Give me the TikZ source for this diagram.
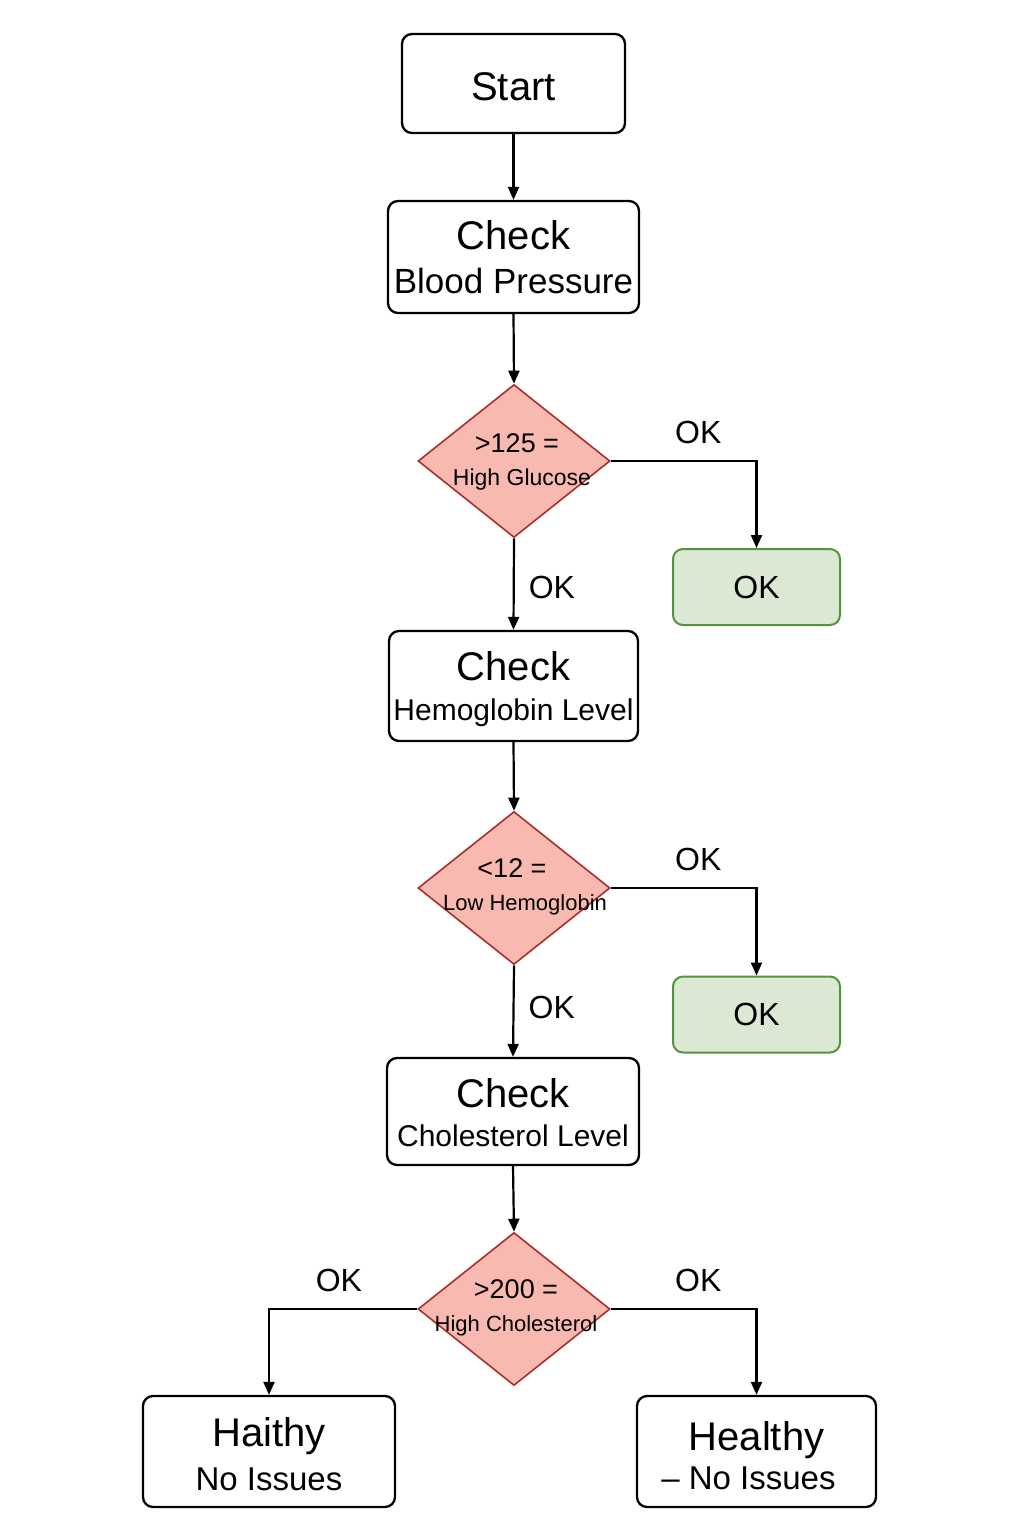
\documentclass[tikz,border=0pt]{standalone}
\usepackage{fontspec}
\setmainfont{Liberation Sans}
\usetikzlibrary{arrows.meta,shapes.geometric}
\definecolor{dfill}{HTML}{F8B9B0}
\definecolor{dline}{HTML}{A8302A}
\definecolor{gfill}{HTML}{DAE8D4}
\definecolor{gline}{HTML}{55943A}
\newcommand{\upstrut}[1]{\rule{0pt}{#1}}
\begin{document}
\begin{tikzpicture}[x=1pt,y=-1pt,
  box/.style={draw=black,line width=2.3pt,rounded corners=10pt,inner sep=0pt,align=center,font=\fontsize{40}{44}\selectfont},
  dec/.style={diamond,draw=dline,fill=dfill,line width=1.6pt,inner sep=0pt,minimum width=192pt,minimum height=153pt},
  dtext/.style={align=center,inner sep=0pt,font=\fontsize{27}{33}\selectfont},
  okbox/.style={draw=gline,fill=gfill,line width=2pt,rounded corners=10pt,minimum width=167pt,minimum height=76pt,inner sep=0pt,font=\fontsize{32}{36}\selectfont},
  arr/.style={line width=2.2pt,-{Triangle[length=13pt,width=11pt]}},
  lbl/.style={inner sep=0pt,font=\fontsize{32}{36}\selectfont}]
\useasboundingbox[fill=white] (0,0) rectangle (1024,1536);

\node[box,minimum width=223pt,minimum height=99pt] (start) at (513.5,83.5) {\upstrut{35pt}Start};
\node[box,minimum width=251pt,minimum height=112pt] (bp) at (513.5,257) {Check\\{\fontsize{35}{44}\selectfont Blood Pressure}};
\node[dec] (d1) at (514,461) {};
\node[dtext] (d1t) at (522,462) {>125 =\hspace*{10pt}\\{\fontsize{23}{33}\selectfont High Glucose}};
\node[okbox] (ok1) at (756.5,587) {OK};
\node[box,minimum width=249pt,minimum height=110pt] (hemo) at (513.5,686) {\upstrut{35pt}Check\\[-4pt]{\fontsize{30}{43}\selectfont Hemoglobin Level}};
\node[dec] (d2) at (514,888) {};
\node[dtext] (d2t) at (525,887) {<12 =\hspace*{26pt}\\{\fontsize{22}{33}\selectfont Low Hemoglobin}};
\node[okbox] (ok2) at (756.5,1014.5) {OK};
\node[box,minimum width=252pt,minimum height=107pt] (chol) at (513,1111.5) {\upstrut{32pt}Check\\[-5pt]{\fontsize{30}{43}\selectfont Cholesterol Level}};
\node[dec] (d3) at (514,1309) {};
\node[dtext] (d3t) at (516,1308) {>200 =\\{\fontsize{22}{33}\selectfont High Cholesterol}};
\node[box,minimum width=252pt,minimum height=111pt] (hai) at (269,1451.5) {\upstrut{34pt}Haithy\\{\fontsize{33}{45}\selectfont No Issues}};
\node[box,minimum width=239pt,minimum height=111pt] (hea) at (756.5,1451.5) {\upstrut{38pt}Healthy\\[-5pt]{\fontsize{33}{41}\selectfont – No Issues\hspace*{16pt}}};

\draw[arr] (start.south) -- (bp.north);
\draw[arr] (bp.south) -- (d1.north);
\draw[arr] (d1.east) -| node[lbl,above=16pt,pos=0.3] (l1) {OK} (ok1.north);
\draw[arr] (d1.south) -- node[lbl,right=14pt,pos=0.54] (l2) {OK} (hemo.north);
\draw[arr] (hemo.south) -- (d2.north);
\draw[arr] (d2.east) -| node[lbl,above=16pt,pos=0.3] (l3) {OK} (ok2.north);
\draw[arr] (d2.south) -- node[lbl,right=14pt,pos=0.46] (l4) {OK} (chol.north);
\draw[arr] (chol.south) -- (d3.north);
\draw[arr] (d3.west) -| node[lbl,above=16pt,pos=0.264] (l5) {OK} (hai.north);
\draw[arr] (d3.east) -| node[lbl,above=16pt,pos=0.3] (l6) {OK} (hea.north);
\end{tikzpicture}
\end{document}
